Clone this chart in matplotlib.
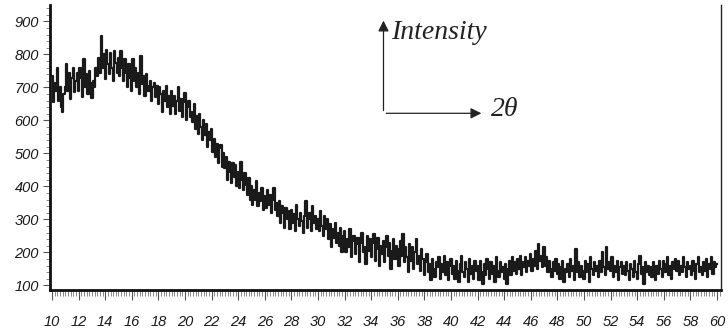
import numpy as np
import matplotlib
matplotlib.use("Agg")
import matplotlib.pyplot as plt
from matplotlib.ticker import MultipleLocator

# 2-theta start / step (degrees) and intensity readings, one row per degree (x.0 ... x.9)
two_theta_start = 10.0
two_theta_step = 0.1
i_10 = [735, 655, 715, 690, 760, 660, 700, 640, 625, 680]
i_11 = [700, 770, 690, 745, 665, 730, 760, 685, 720, 745]
i_12 = [690, 760, 730, 670, 785, 700, 740, 680, 750, 715]
i_13 = [668, 720, 700, 760, 735, 790, 745, 855, 760, 800]
i_14 = [725, 815, 770, 740, 805, 760, 720, 810, 775, 745]
i_15 = [790, 735, 810, 760, 720, 785, 745, 700, 770, 730]
i_16 = [690, 785, 720, 760, 700, 745, 680, 795, 710, 735]
i_17 = [675, 740, 705, 690, 720, 660, 700, 715, 670, 705]
i_18 = [650, 700, 680, 625, 690, 660, 705, 640, 675, 620]
i_19 = [690, 645, 675, 620, 660, 700, 630, 665, 610, 655]
i_20 = [683, 600, 640, 660, 610, 625, 595, 650, 575, 615]
i_21 = [560, 620, 580, 540, 600, 555, 590, 520, 565, 540]
i_22 = [575, 505, 545, 490, 530, 470, 515, 525, 460, 500]
i_23 = [455, 490, 420, 475, 445, 410, 470, 430, 465, 400]
i_24 = [445, 395, 475, 420, 390, 440, 405, 375, 425, 360]
i_25 = [400, 345, 390, 360, 415, 340, 380, 355, 395, 330]
i_26 = [370, 335, 390, 345, 375, 320, 360, 395, 330, 350]
i_27 = [310, 355, 290, 340, 320, 275, 335, 300, 325, 270]
i_28 = [330, 290, 315, 265, 345, 300, 280, 320, 295, 260]
i_29 = [310, 355, 275, 300, 320, 265, 340, 290, 310, 270]
i_30 = [300, 265, 325, 280, 250, 310, 270, 300, 240, 285]
i_31 = [215, 270, 245, 290, 230, 260, 220, 275, 200, 250]
i_32 = [265, 200, 240, 215, 270, 185, 235, 250, 195, 225]
i_33 = [245, 170, 230, 260, 200, 215, 165, 250, 205, 240]
i_34 = [185, 230, 255, 175, 210, 245, 160, 220, 195, 235]
i_35 = [170, 215, 250, 190, 230, 150, 205, 240, 180, 220]
i_36 = [210, 160, 235, 190, 255, 170, 215, 185, 140, 225]
i_37 = [175, 215, 150, 200, 240, 165, 190, 145, 210, 180]
i_38 = [130, 170, 195, 140, 165, 115, 180, 150, 125, 170]
i_39 = [155, 185, 120, 165, 140, 190, 130, 170, 115, 160]
i_40 = [180, 135, 160, 120, 175, 145, 110, 165, 190, 140]
i_41 = [125, 170, 150, 110, 180, 135, 160, 120, 175, 145]
i_42 = [160, 115, 175, 140, 105, 165, 130, 180, 150, 120]
i_43 = [170, 135, 160, 110, 185, 145, 125, 170, 140, 155]
i_44 = [120, 165, 105, 150, 175, 130, 185, 145, 170, 135]
i_45 = [180, 150, 190, 130, 170, 155, 185, 140, 175, 160]
i_46 = [195, 145, 180, 160, 205, 150, 225, 175, 190, 155]
i_47 = [215, 160, 185, 140, 175, 150, 125, 170, 145, 180]
i_48 = [135, 165, 120, 155, 175, 110, 150, 140, 165, 125]
i_49 = [180, 145, 160, 115, 210, 140, 170, 125, 160, 145]
i_50 = [120, 175, 140, 165, 110, 185, 150, 130, 170, 145]
i_51 = [160, 125, 175, 140, 200, 155, 130, 215, 150, 170]
i_52 = [145, 185, 125, 160, 140, 175, 115, 155, 170, 135]
i_53 = [160, 130, 170, 145, 115, 165, 150, 125, 175, 140]
i_54 = [120, 165, 190, 135, 155, 105, 170, 140, 160, 130]
i_55 = [155, 125, 170, 145, 115, 160, 135, 175, 150, 125]
i_56 = [175, 140, 165, 185, 130, 160, 120, 170, 150, 180]
i_57 = [145, 175, 130, 160, 140, 185, 155, 125, 170, 150]
i_58 = [160, 130, 175, 145, 120, 165, 185, 140, 155, 130]
i_59 = [170, 145, 180, 125, 165, 150, 185, 135, 170, 155]
i_60 = [165]

intensity = (i_10 + i_11 + i_12 + i_13 + i_14 + i_15 + i_16 + i_17 + i_18 + i_19 +
             i_20 + i_21 + i_22 + i_23 + i_24 + i_25 + i_26 + i_27 + i_28 + i_29 +
             i_30 + i_31 + i_32 + i_33 + i_34 + i_35 + i_36 + i_37 + i_38 + i_39 +
             i_40 + i_41 + i_42 + i_43 + i_44 + i_45 + i_46 + i_47 + i_48 + i_49 +
             i_50 + i_51 + i_52 + i_53 + i_54 + i_55 + i_56 + i_57 + i_58 + i_59 + i_60)
two_theta = two_theta_start + two_theta_step * np.arange(len(intensity))

x_ticks = list(range(10, 61, 2))
y_ticks = [100, 200, 300, 400, 500, 600, 700, 800, 900]

fig = plt.figure(figsize=(7.28, 3.35), dpi=100)
ax = fig.add_axes([50/728, 1 - 290/335, 671/728, 285/335])

ax.plot(two_theta, intensity, color="#1a1a1a", lw=1.6, drawstyle="steps-mid")

ax.set_xlim(9.85, 60.3)
ax.set_ylim(86, 950)
ax.set_xticks(x_ticks)
ax.set_yticks(y_ticks)
ax.xaxis.set_minor_locator(MultipleLocator(0.2))
ax.yaxis.set_minor_locator(MultipleLocator(20))

tick_font = dict(family="Liberation Sans", style="italic", size=10.5)
ax.set_xticklabels([str(t) for t in x_ticks], **tick_font, color="#1a1a1a")
ax.set_yticklabels([str(t) for t in y_ticks], **tick_font, color="#1a1a1a")
ax.tick_params(axis="x", which="major", direction="out", length=7, width=0.8, pad=11, color="#555555")
ax.tick_params(axis="x", which="minor", direction="out", length=4, width=0.6, color="#777777")
ax.tick_params(axis="y", which="major", direction="out", length=5, width=0.8, pad=3, color="#555555")
ax.tick_params(axis="y", which="minor", direction="out", length=3, width=0.6, color="#777777")

for s in ("left", "bottom"):
    ax.spines[s].set_linewidth(2.0)
    ax.spines[s].set_color("#111111")
ax.spines["right"].set_linewidth(1.0)
ax.spines["right"].set_color("#222222")
ax.spines["top"].set_visible(False)

# inset axis-key arrows
ax.annotate("", xy=(0.497, 0.955), xytext=(0.497, 0.62), xycoords="axes fraction",
            arrowprops=dict(arrowstyle="-|>", color="#222222", lw=0.9, mutation_scale=16))
ax.annotate("", xy=(0.647, 0.62), xytext=(0.497, 0.62), xycoords="axes fraction",
            arrowprops=dict(arrowstyle="-|>", color="#222222", lw=0.9, mutation_scale=16))
ax.text(0.508, 0.905, "Intensity", transform=ax.transAxes, family="Liberation Serif",
        style="italic", size=20, color="#222222", va="center", ha="left")
ax.text(0.657, 0.635, "2θ", transform=ax.transAxes, family="Liberation Serif",
        style="italic", size=20, color="#222222", va="center", ha="left")

fig.savefig("out.png", dpi=100)
